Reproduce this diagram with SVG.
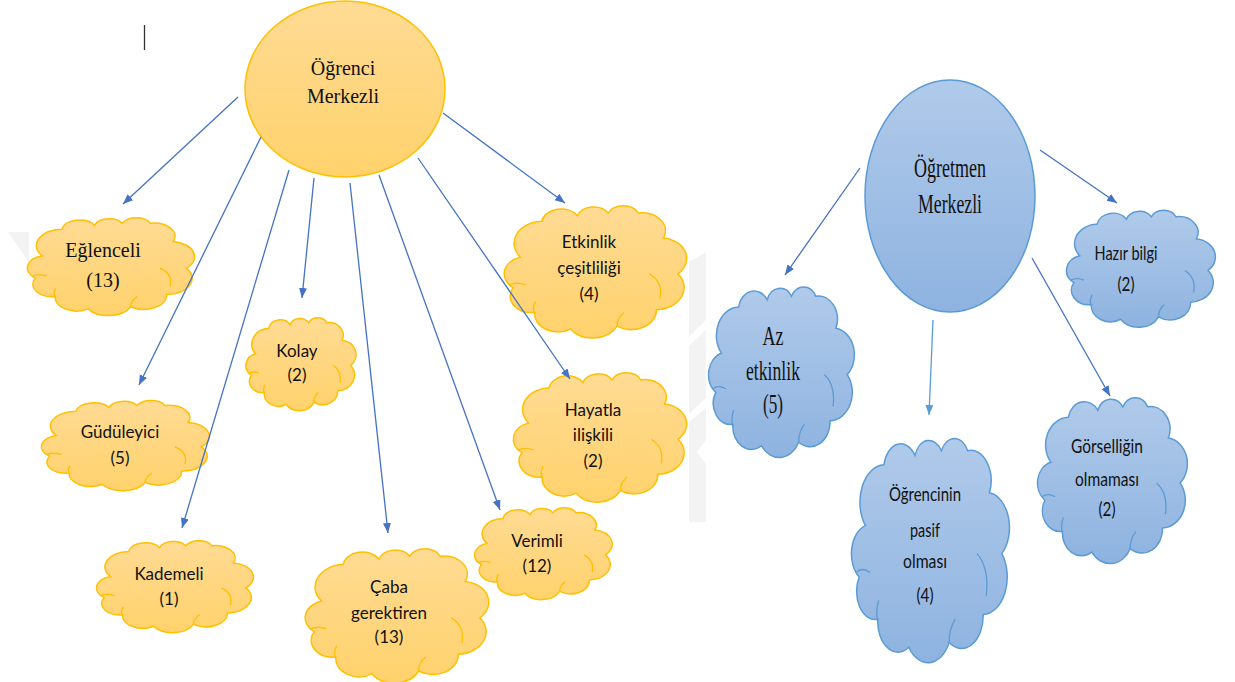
<svg xmlns="http://www.w3.org/2000/svg" xmlns:xlink="http://www.w3.org/1999/xlink" width="1235" height="682" viewBox="0 0 1235 682">
  <style>
    .serif { font-family: "Liberation Serif", "Times New Roman", serif; fill: #111; text-anchor: middle; }
    .sans { font-family: Lato, "Liberation Sans", sans-serif; fill: #111; text-anchor: middle; }
    .o { fill: url(#gOrange); stroke: #FFC000; }
    .b { fill: url(#gBlue); stroke: #5B9BD5; }
    .edge { stroke: #4472C4; stroke-width: 1.3; fill: none; marker-end: url(#arrow); }
    .edge.light { stroke: #5B9BD5; marker-end: url(#arrowLight); }
    .wm { fill: #F3F3F3; }
  </style>
  <defs>
    <linearGradient id="gOrange" x1="0" y1="0" x2="0" y2="1">
      <stop offset="0" stop-color="#FFDB94"/>
      <stop offset="1" stop-color="#FFD26C"/>
    </linearGradient>
    <linearGradient id="gBlue" x1="0" y1="0" x2="0" y2="1">
      <stop offset="0" stop-color="#B0CAEA"/>
      <stop offset="1" stop-color="#8EB3E0"/>
    </linearGradient>
    <!-- cloud outline in a 100x100 unit box -->
    <path id="cloudOutline" stroke-width="1.5" vector-effect="non-scaling-stroke"
          d="M8,40 A16,16 0 0 1 20,14 A11,11 0 0 1 40,10 A9.5,9.5 0 0 1 57,8 A9.5,9.5 0 0 1 74,8 A13,13 0 0 1 88,26 A15,15 0 0 1 96,52 A16,16 0 0 1 84,78 A14,14 0 0 1 62,90 A15,15 0 0 1 36,92 A13,13 0 0 1 16,80 A12,12 0 0 1 4,62 A12.5,12.5 0 0 1 8,40 Z"/>
    <!-- inner fold lines of the cloud -->
    <path id="cloudInner" fill="none" stroke-width="1.3" vector-effect="non-scaling-stroke"
          d="M2,60 Q6,57.5 11,60 M16,81 Q14.5,77 16.5,72 M62,90 Q62,84 66,80 M80,52 Q88,58 86,70"/>
    <g id="cloud">
      <use xlink:href="#cloudOutline"/>
      <use xlink:href="#cloudInner"/>
    </g>
    <marker id="arrow" markerUnits="userSpaceOnUse" markerWidth="11" markerHeight="9" refX="10" refY="4" orient="auto">
      <path d="M0,0 L10,4 L0,8 Z" fill="#4472C4"/>
    </marker>
    <marker id="arrowLight" markerUnits="userSpaceOnUse" markerWidth="11" markerHeight="9" refX="10" refY="4" orient="auto">
      <path d="M0,0 L10,4 L0,8 Z" fill="#5B9BD5"/>
    </marker>
  </defs>

  <rect width="1235" height="682" fill="#FFFFFF"/>

  <!-- faint background marks -->
  <g id="background-marks">
    <polygon class="wm" points="8,232 29,232 29,262"/>
    <polygon class="wm" points="689,262 706,252 706,320 689,337"/>
    <polygon class="wm" points="689,346 706,330 706,398 689,414"/>
    <polygon class="wm" points="689,422 706,408 706,440 697,452 706,464 706,522 689,522"/>
  </g>

  <!-- text cursor mark -->
  <line x1="144.5" y1="25" x2="144.5" y2="50" stroke="#333" stroke-width="1.3"/>

  <!-- central node: student-centred -->
  <g id="n-ogrenci-merkezli">
    <ellipse cx="345" cy="89" rx="100" ry="88" fill="url(#gOrange)" stroke="#FFC000" stroke-width="1.5"/>
    <text class="serif" x="343" y="75" font-size="20">Öğrenci</text>
    <text class="serif" x="343" y="103" font-size="20">Merkezli</text>
  </g>

  <!-- central node: teacher-centred -->
  <g id="n-ogretmen-merkezli">
    <ellipse cx="950" cy="196" rx="85" ry="116" fill="url(#gBlue)" stroke="#5B9BD5" stroke-width="1.5"/>
    <text class="serif" x="950" y="177" font-size="27" textLength="72" lengthAdjust="spacingAndGlyphs">Öğretmen</text>
    <text class="serif" x="950" y="213" font-size="27" textLength="64" lengthAdjust="spacingAndGlyphs">Merkezli</text>
  </g>

  <!-- orange clouds -->
  <g id="n-eglenceli">
    <use xlink:href="#cloud" class="o" transform="translate(29,215) scale(1.64,1.02)"/>
    <text class="serif" x="103" y="257" font-size="20">Eğlenceli</text>
    <text class="serif" x="103" y="287" font-size="20">(13)</text>
  </g>

  <g id="n-kolay">
    <use xlink:href="#cloud" class="o" transform="translate(247,315) scale(1.08,0.97)"/>
    <text class="sans" x="297" y="357" font-size="17">Kolay</text>
    <text class="sans" x="297" y="381" font-size="17">(2)</text>
  </g>

  <g id="n-guduleyici">
    <use xlink:href="#cloud" class="o" transform="translate(43,398) scale(1.65,0.94)"/>
    <text class="sans" x="120" y="438" font-size="17">Güdüleyici</text>
    <text class="sans" x="120" y="464" font-size="17">(5)</text>
  </g>

  <g id="n-kademeli">
    <use xlink:href="#cloud" class="o" transform="translate(98,538) scale(1.54,0.96)"/>
    <text class="sans" x="169" y="580" font-size="17">Kademeli</text>
    <text class="sans" x="169" y="605" font-size="17">(1)</text>
  </g>

  <g id="n-caba-gerektiren">
    <use xlink:href="#cloud" class="o" transform="translate(307,545) scale(1.80,1.40)"/>
    <text class="sans" x="389" y="593" font-size="17">Çaba</text>
    <text class="sans" x="389" y="619" font-size="17">gerektiren</text>
    <text class="sans" x="389" y="643" font-size="17">(13)</text>
  </g>

  <g id="n-verimli">
    <use xlink:href="#cloud" class="o" transform="translate(476,505) scale(1.35,0.96)"/>
    <text class="sans" x="537" y="547" font-size="17">Verimli</text>
    <text class="sans" x="537" y="572" font-size="17">(12)</text>
  </g>

  <g id="n-hayatla-iliskili">
    <use xlink:href="#cloud" class="o" transform="translate(515,369) scale(1.70,1.35)"/>
    <text class="sans" x="593" y="416" font-size="17">Hayatla</text>
    <text class="sans" x="593" y="441" font-size="17">ilişkili</text>
    <text class="sans" x="593" y="467" font-size="17">(2)</text>
  </g>

  <g id="n-etkinlik-cesitliligi">
    <use xlink:href="#cloud" class="o" transform="translate(506,202) scale(1.79,1.38)"/>
    <text class="sans" x="589" y="248" font-size="17">Etkinlik</text>
    <text class="sans" x="589" y="274" font-size="17">çeşitliliği</text>
    <text class="sans" x="589" y="300" font-size="17">(4)</text>
  </g>

  <!-- blue clouds -->
  <g id="n-az-etkinlik">
    <use xlink:href="#cloud" class="b" transform="translate(710,282) scale(1.43,1.78)"/>
    <text class="serif" x="773" y="345" font-size="27" textLength="21" lengthAdjust="spacingAndGlyphs">Az</text>
    <text class="serif" x="773" y="380" font-size="27" textLength="54" lengthAdjust="spacingAndGlyphs">etkinlik</text>
    <text class="serif" x="773" y="413" font-size="27" textLength="20" lengthAdjust="spacingAndGlyphs">(5)</text>
  </g>

  <g id="n-hazir-bilgi">
    <use xlink:href="#cloud" class="b" transform="translate(1068,207) scale(1.46,1.22)"/>
    <text class="sans" x="1126" y="260" font-size="20" textLength="63" lengthAdjust="spacingAndGlyphs">Hazır bilgi</text>
    <text class="sans" x="1126" y="291" font-size="20" textLength="17" lengthAdjust="spacingAndGlyphs">(2)</text>
  </g>

  <g id="n-ogrencinin-pasif-olmasi">
    <use xlink:href="#cloud" class="b" transform="translate(853,432) scale(1.55,2.34)"/>
    <text class="sans" x="925" y="501" font-size="20" textLength="72" lengthAdjust="spacingAndGlyphs">Öğrencinin</text>
    <text class="sans" x="925" y="537" font-size="20" textLength="30" lengthAdjust="spacingAndGlyphs">pasif</text>
    <text class="sans" x="925" y="568" font-size="20" textLength="44" lengthAdjust="spacingAndGlyphs">olması</text>
    <text class="sans" x="925" y="602" font-size="20" textLength="17" lengthAdjust="spacingAndGlyphs">(4)</text>
  </g>

  <g id="n-gorselligin-olmamasi">
    <use xlink:href="#cloud" class="b" transform="translate(1039,393) scale(1.47,1.73)"/>
    <text class="sans" x="1107" y="453" font-size="20" textLength="72" lengthAdjust="spacingAndGlyphs">Görselliğin</text>
    <text class="sans" x="1107" y="486" font-size="20" textLength="64" lengthAdjust="spacingAndGlyphs">olmaması</text>
    <text class="sans" x="1107" y="516" font-size="20" textLength="17" lengthAdjust="spacingAndGlyphs">(2)</text>
  </g>

  <!-- connectors -->
  <g id="connectors">
    <line class="edge" x1="238" y1="97" x2="123" y2="204"/>
    <line class="edge" x1="261" y1="137" x2="139" y2="385"/>
    <line class="edge" x1="289" y1="170" x2="182" y2="528"/>
    <line class="edge" x1="314" y1="178" x2="302" y2="298"/>
    <line class="edge" x1="350" y1="183" x2="388" y2="533"/>
    <line class="edge" x1="379" y1="175" x2="500" y2="510"/>
    <line class="edge" x1="418" y1="158" x2="570" y2="379"/>
    <line class="edge" x1="443" y1="113" x2="565" y2="203"/>

    <line class="edge" x1="860" y1="168" x2="785" y2="275"/>
    <line class="edge light" x1="933" y1="320" x2="929" y2="415"/>
    <line class="edge" x1="1040" y1="150" x2="1117" y2="203"/>
    <line class="edge" x1="1032" y1="258" x2="1110" y2="396"/>
  </g>
</svg>
